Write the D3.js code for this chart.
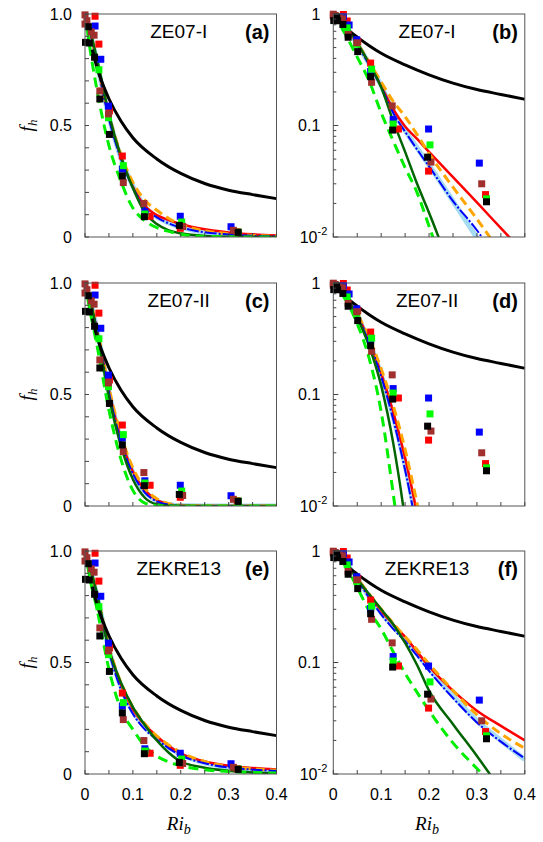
<!DOCTYPE html>
<html><head><meta charset="utf-8">
<script src="https://cdn.jsdelivr.net/npm/d3@7/dist/d3.min.js"></script>
<style>body{margin:0;background:#fff}svg{display:block}</style>
</head><body>
<svg id="chart" width="543" height="842"></svg>
<script>
// ---------- data ----------
const riGrid = [0, 0.01, 0.025, 0.05, 0.075, 0.1, 0.125, 0.15, 0.175, 0.2, 0.25, 0.3, 0.35, 0.4];

// ZE07-I (panels a, b)
const ze07I_orange    = [1, 0.93, 0.79, 0.55, 0.37, 0.245, 0.165, 0.12, 0.083, 0.056, 0.028, 0.0145, 0.0072, 0.0036];
const ze07I_red       = [1, 0.93, 0.78, 0.54, 0.36, 0.225, 0.14, 0.098, 0.0757, 0.058, 0.0344, 0.0204, 0.012, 0.0071];
const ze07I_lightblue = [1, 0.93, 0.78, 0.54, 0.355, 0.228, 0.135, 0.09, 0.063, 0.044, 0.021, 0.0098, 0.0046, 0.0022];
const ze07I_blue      = [1, 0.93, 0.78, 0.53, 0.35, 0.222, 0.13, 0.088, 0.061, 0.043, 0.021, 0.0115, 0.0055, 0.0027];
const ze07I_darkgreen = [1, 0.93, 0.8, 0.55, 0.36, 0.22, 0.11, 0.058, 0.03, 0.0165, 0.0045, 0.0011, 0.0003, 0.0001];
const ze07I_greendash = [1, 0.85, 0.66, 0.41, 0.25, 0.13, 0.073, 0.042, 0.025, 0.0125, 0.003, 0.0007, 0.0002, 0.00005];

// ZE07-II (panels c, d)
const ze07II_orange    = [1, 0.93, 0.8, 0.53, 0.32, 0.17, 0.08, 0.032, 0.0105, 0.003, 0.0002, 0.00001, 0.000001, 0.0000001];
const ze07II_red       = [1, 0.93, 0.79, 0.52, 0.30, 0.155, 0.07, 0.027, 0.0085, 0.0022, 0.0001, 0.00001, 0.000001, 0.0000001];
const ze07II_lightblue = [1, 0.93, 0.79, 0.51, 0.295, 0.15, 0.064, 0.023, 0.0068, 0.0017, 0.0001, 0.00001, 0.000001, 0.0000001];
const ze07II_blue      = [1, 0.93, 0.79, 0.51, 0.29, 0.145, 0.06, 0.021, 0.006, 0.0014, 0.0001, 0.00001, 0.000001, 0.0000001];
const ze07II_darkgreen = [1, 0.93, 0.78, 0.49, 0.27, 0.12, 0.037, 0.0075, 0.001, 0.0001, 0.00001, 0.000001, 0.0000001, 0.00000001];
const ze07II_greendash = [1, 0.88, 0.72, 0.43, 0.21, 0.07, 0.013, 0.002, 0.0002, 0.00001, 0.000001, 0.0000001, 0.00000001, 0.000000001];

// ZEKRE13 (panels e, f)
const zekre_orange    = [1, 0.93, 0.81, 0.57, 0.41, 0.30, 0.225, 0.17, 0.13, 0.097, 0.056, 0.034, 0.023, 0.017];
const zekre_red       = [1, 0.93, 0.8, 0.56, 0.40, 0.29, 0.22, 0.17, 0.125, 0.092, 0.056, 0.037, 0.027, 0.020];
const zekre_lightblue = [1, 0.93, 0.8, 0.56, 0.39, 0.28, 0.21, 0.16, 0.12, 0.088, 0.05, 0.03, 0.02, 0.0135];
const zekre_blue      = [1, 0.93, 0.8, 0.55, 0.38, 0.27, 0.20, 0.155, 0.115, 0.084, 0.048, 0.029, 0.0195, 0.0138];
const zekre_darkgreen = [1, 0.93, 0.81, 0.56, 0.41, 0.30, 0.22, 0.15, 0.095, 0.056, 0.028, 0.0145, 0.0072, 0.0035];
const zekre_greendash = [1, 0.88, 0.74, 0.47, 0.29, 0.20, 0.125, 0.08, 0.054, 0.037, 0.019, 0.0112, 0.0068, 0.0042];

// reference curve (same in all panels)
const blackRi = [0.015, 0.025, 0.05, 0.075, 0.1, 0.15, 0.2, 0.25, 0.3, 0.35, 0.4];
const blackF  = [0.84, 0.76, 0.62, 0.52, 0.445, 0.35, 0.285, 0.24, 0.21, 0.19, 0.172];

// observations [Ri_b, f_h]
const obsRed   = [[0.021,0.99],[0.029,0.865],[0.051,0.565],[0.078,0.363],[0.136,0.093],[0.199,0.039],[0.318,0.024]];
const obsBlue  = [[0.021,0.946],[0.033,0.797],[0.049,0.587],[0.078,0.305],[0.125,0.113],[0.199,0.093],[0.305,0.046]];
const obsGreen = [[0.029,0.75],[0.049,0.535],[0.08,0.32],[0.125,0.103],[0.202,0.067],[0.32,0.022]];
const obsBrown = [[0.0,0.996],[0.0,0.955],[0.004,0.97],[0.013,0.92],[0.019,0.905],[0.031,0.655],[0.049,0.552],[0.08,0.244],[0.123,0.15],[0.204,0.047],[0.31,0.03]];
const obsBlack = [[0.001,0.873],[0.009,0.87],[0.007,0.943],[0.02,0.806],[0.031,0.619],[0.051,0.46],[0.078,0.274],[0.124,0.091],[0.197,0.052],[0.32,0.0207]];

const xTicks = [0, 0.1, 0.2, 0.3, 0.4];
const xTickLabels = ["0", "0.1", "0.2", "0.3", "0.4"];
const linTicks = [0, 0.5, 1.0];
const linTickLabels = ["0", "0.5", "1.0"];
const logTicks = [0.01, 0.1, 1];
const titles = ["ZE07-I", "ZE07-II", "ZEKRE13"];
const tags = [["(a)","(b)"],["(c)","(d)"],["(e)","(f)"]];

const sets = [
  {orange: ze07I_orange, red: ze07I_red, lightblue: ze07I_lightblue, blue: ze07I_blue, darkgreen: ze07I_darkgreen, greendash: ze07I_greendash},
  {orange: ze07II_orange, red: ze07II_red, lightblue: ze07II_lightblue, blue: ze07II_blue, darkgreen: ze07II_darkgreen, greendash: ze07II_greendash},
  {orange: zekre_orange, red: zekre_red, lightblue: zekre_lightblue, blue: zekre_blue, darkgreen: zekre_darkgreen, greendash: zekre_greendash}
];

// ---------- styles ----------
const curveStyles = [
  {key:"lightblue", color:"#a6dcf2", width:5, dash:null},
  {key:"red", color:"#ff0000", width:2.5, dash:null},
  {key:"orange", color:"#ffa500", width:3, dash:"9,5"},
  {key:"blue", color:"#0000ff", width:2, dash:"12,2,2,2"},
  {key:"darkgreen", color:"#006400", width:2.5, dash:null},
  {key:"greendash", color:"#00ee00", width:3, dash:"10,6"}
];
const obsStyles = [
  {data:obsRed, color:"#ff0000"},
  {data:obsBlue, color:"#0000ff"},
  {data:obsGreen, color:"#00ff00"},
  {data:obsBrown, color:"#a0302d"},
  {data:obsBlack, color:"#000000"}
];

const svg = d3.select("#chart");
const colX = [85, 333.3];
const rowY = [14, 283, 551];
const W = 191.5, H = 223;
const sansFont = "'Liberation Sans', Arial, Helvetica, sans-serif";
const serifFont = "'Liberation Serif', 'Times New Roman', serif";

rowY.forEach((top, r) => {
  [0, 1].forEach(c => {
    const isLog = c === 1;
    const left = colX[c];
    const g = svg.append("g").attr("transform", `translate(${left},${top})`);
    const x = d3.scaleLinear().domain([0, 0.4]).range([0, W]);
    const y = isLog ? d3.scaleLog().domain([0.01, 1]).range([H, 0])
                    : d3.scaleLinear().domain([0, 1]).range([H, 0]);
    const clipId = `clip${r}${c}`;
    g.append("clipPath").attr("id", clipId).append("rect")
      .attr("x", 0).attr("y", -6).attr("width", W).attr("height", H + 6);
    const plot = g.append("g").attr("clip-path", `url(#${clipId})`);

    // model curves
    const set = sets[r];
    curveStyles.forEach(s => {
      const pts = riGrid.map((ri, i) => [ri, set[s.key][i]]);
      const line = d3.line().x(d => x(d[0])).y(d => y(d[1])).curve(d3.curveMonotoneX);
      plot.append("path").attr("d", line(pts)).attr("fill", "none")
        .attr("stroke", s.color).attr("stroke-width", s.width)
        .attr("stroke-dasharray", s.dash).attr("stroke-linecap", "butt");
    });
    // reference black curve
    const bpts = blackRi.map((ri, i) => [ri, blackF[i]]);
    plot.append("path")
      .attr("d", d3.line().x(d => x(d[0])).y(d => y(d[1])).curve(d3.curveMonotoneX)(bpts))
      .attr("fill", "none").attr("stroke", "#000").attr("stroke-width", 3);

    // observations
    const sq = 7;
    obsStyles.forEach(o => {
      g.append("g").selectAll("rect").data(o.data).join("rect")
        .attr("x", d => x(d[0]) - sq / 2).attr("y", d => y(d[1]) - sq / 2)
        .attr("width", sq).attr("height", sq).attr("fill", o.color);
    });

    // frame
    g.append("rect").attr("x", 0).attr("y", 0).attr("width", W).attr("height", H)
      .attr("fill", "none").attr("stroke", "#555").attr("stroke-width", 1);

    // x ticks (inward)
    const xt = d3.range(0, 0.4001, 0.05);
    g.append("g").selectAll("line").data(xt).join("line")
      .attr("x1", d => x(d)).attr("x2", d => x(d)).attr("y1", H).attr("y2", H - 4)
      .attr("stroke", "#444").attr("stroke-width", 1);

    // y ticks (inward)
    if (!isLog) {
      const yt = d3.range(0, 1.0001, 0.1);
      g.append("g").selectAll("line").data(yt).join("line")
        .attr("x1", 0).attr("x2", 4).attr("y1", d => y(d)).attr("y2", d => y(d))
        .attr("stroke", "#444").attr("stroke-width", 1);
      g.append("g").selectAll("text").data(linTicks).join("text")
        .attr("x", -13).attr("y", d => y(d)).attr("dy", "0.36em")
        .attr("text-anchor", "end").attr("font-family", sansFont).attr("font-size", 16)
        .text((d, i) => linTickLabels[i]);
    } else {
      const minor = [];
      [0.01, 0.1].forEach(dec => { for (let k = 2; k <= 9; k++) minor.push(dec * k); });
      g.append("g").selectAll("line").data(minor).join("line")
        .attr("x1", 0).attr("x2", 3).attr("y1", d => y(d)).attr("y2", d => y(d))
        .attr("stroke", "#444").attr("stroke-width", 1);
      g.append("g").selectAll("line").data(logTicks).join("line")
        .attr("x1", 0).attr("x2", 5).attr("y1", d => y(d)).attr("y2", d => y(d))
        .attr("stroke", "#444").attr("stroke-width", 1);
      g.append("text").attr("x", -13).attr("y", y(1)).attr("dy", "0.36em")
        .attr("text-anchor", "end").attr("font-family", sansFont).attr("font-size", 16).text("1");
      g.append("text").attr("x", -13).attr("y", y(0.1)).attr("dy", "0.36em")
        .attr("text-anchor", "end").attr("font-family", sansFont).attr("font-size", 16).text("0.1");
      const t = g.append("text").attr("x", -6).attr("y", y(0.01)).attr("dy", "0.36em")
        .attr("text-anchor", "end").attr("font-family", sansFont).attr("font-size", 16);
      t.append("tspan").text("10");
      t.append("tspan").attr("font-size", 11).attr("dy", "-0.7em").text("-2");
    }

    // x tick labels on bottom row
    if (r === 2) {
      g.append("g").selectAll("text").data(xTicks).join("text")
        .attr("x", d => x(d)).attr("y", H + 26)
        .attr("text-anchor", "middle").attr("font-family", sansFont).attr("font-size", 16)
        .text((d, i) => xTickLabels[i]);
      const xl = g.append("text").attr("x", W / 2 - 2).attr("y", H + 56)
        .attr("text-anchor", "middle").attr("font-family", serifFont)
        .attr("font-style", "italic").attr("font-size", 19);
      xl.append("tspan").text("Ri");
      xl.append("tspan").attr("font-size", 14).attr("dy", 4).text("b");
    }

    // titles
    g.append("text").attr("x", W / 2 - 2).attr("y", 24)
      .attr("text-anchor", "middle").attr("font-family", sansFont).attr("font-size", 19)
      .text(titles[r]);
    g.append("text").attr("x", W - 7).attr("y", 25)
      .attr("text-anchor", "end").attr("font-family", sansFont).attr("font-weight", "bold")
      .attr("font-size", 20).text(tags[r][c]);

    // y axis label on left column
    if (c === 0) {
      const yl = g.append("text")
        .attr("transform", `translate(${-52},${H / 2}) rotate(-90)`)
        .attr("text-anchor", "middle").attr("font-family", serifFont)
        .attr("font-style", "italic").attr("font-size", 19);
      yl.append("tspan").text("f");
      yl.append("tspan").attr("font-size", 13).attr("dy", 4).text("h");
    }
  });
});
</script>
</body></html>
